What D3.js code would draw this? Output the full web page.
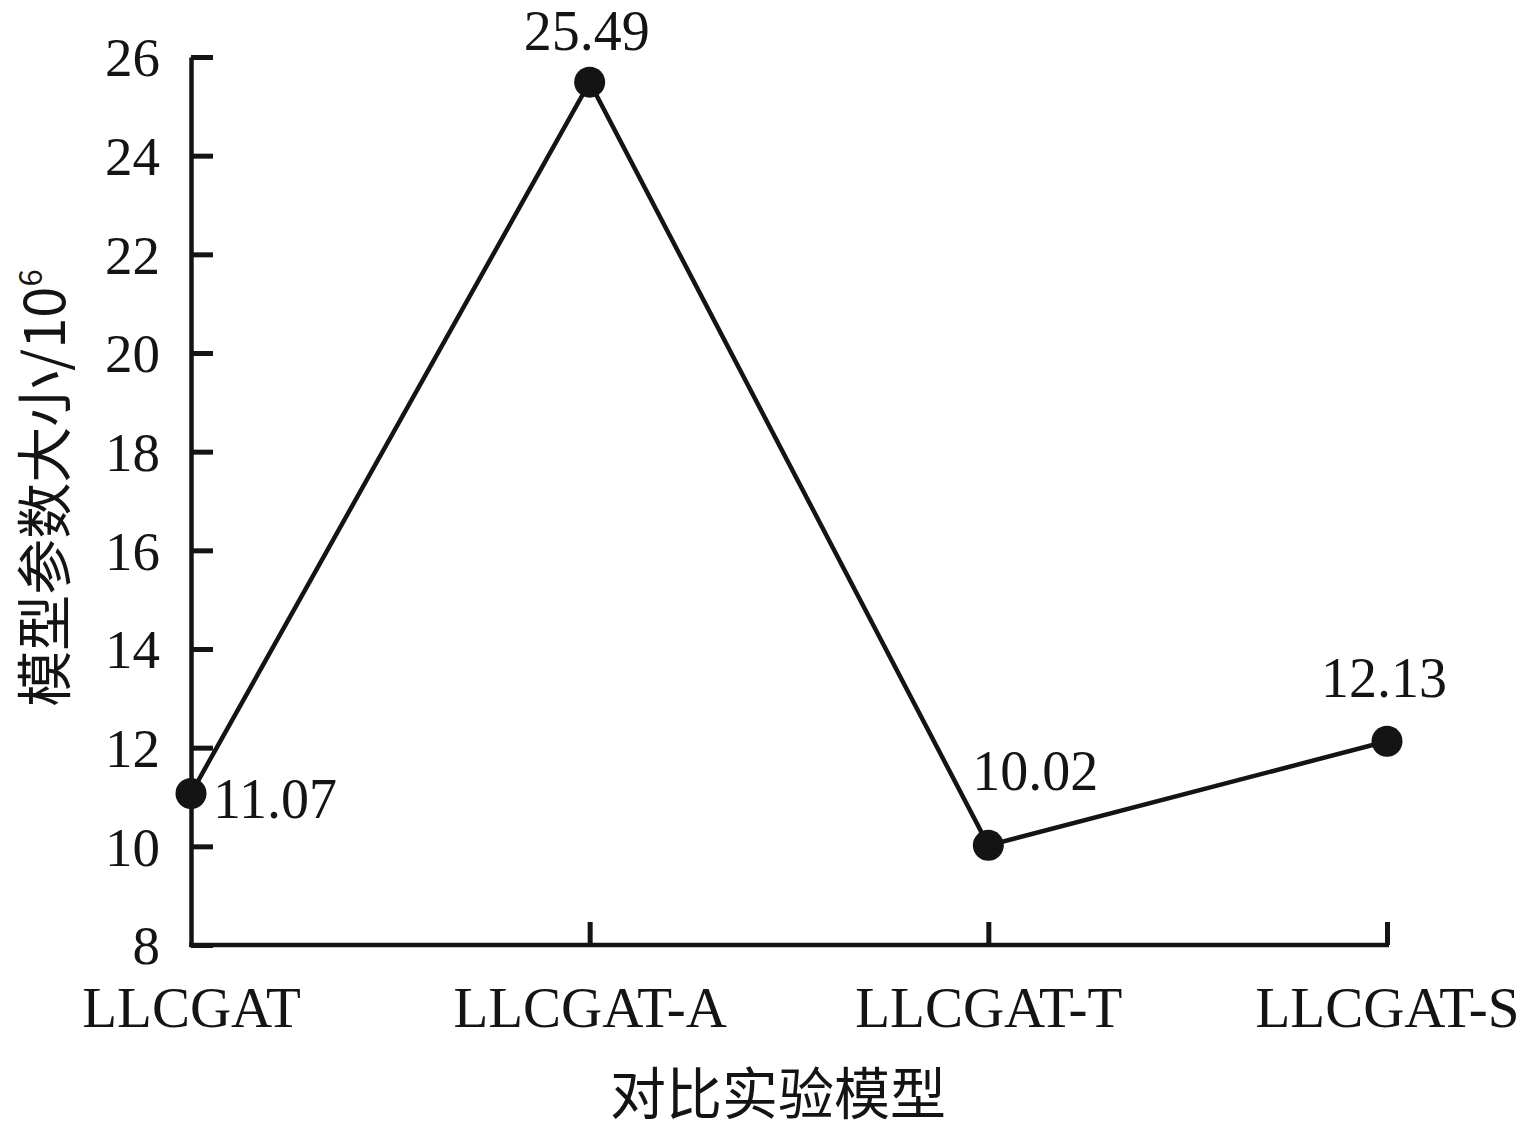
<!DOCTYPE html>
<html>
<head>
<meta charset="utf-8">
<script src="https://cdn.jsdelivr.net/npm/d3@7"></script>
<style>
  html, body { margin: 0; padding: 0; background: #fff; }
  svg { display: block; }
</style>
</head>
<body>
<svg id="chart" width="1530" height="1134"></svg>
<script>
const categories = ["LLCGAT", "LLCGAT-A", "LLCGAT-T", "LLCGAT-S"];
const values = [11.07, 25.49, 10.02, 12.13];
const valueLabels = ["11.07", "25.49", "10.02", "12.13"];
const yTicks = [8, 10, 12, 14, 16, 18, 20, 22, 24, 26];
const xTitle = "对比实验模型";
const yTitle = "模型参数大小/10";
const yTitleSup = "6";

const svg = d3.select("#chart");
const ink = "#141414";
const numFont = "'Liberation Serif', 'DejaVu Serif', serif";
const cjkFont = "'Noto Sans CJK SC', sans-serif";

const x = d3.scalePoint().domain(categories).range([191, 1387]).padding(0);
const y = d3.scaleLinear().domain([8, 26]).range([945, 57]);

// Y axis
const yAxis = d3.axisLeft(y).tickValues(yTicks).tickSizeInner(-22).tickSizeOuter(0).tickPadding(30);
const gy = svg.append("g").attr("transform", `translate(${x(categories[0])},0)`).call(yAxis);
gy.select(".domain").attr("stroke", ink).attr("stroke-width", 4.5);
gy.selectAll(".tick line").attr("stroke", ink).attr("stroke-width", 5);
gy.selectAll(".tick text")
  .attr("fill", ink).attr("font-family", numFont).attr("font-size", 55)
  .attr("x", -31).attr("dy", "0.34em");

// X axis
const xAxis = d3.axisBottom(x).tickSizeInner(-23).tickSizeOuter(0).tickPadding(0);
const gx = svg.append("g").attr("transform", `translate(0,${y(8)})`).call(xAxis);
gx.select(".domain").attr("stroke", ink).attr("stroke-width", 4.5)
  .attr("d", `M${x(categories[0]) - 2},0H${x(categories[categories.length - 1]) + 2}`);
gx.selectAll(".tick line").attr("stroke", ink).attr("stroke-width", 5);
gx.selectAll(".tick text")
  .attr("fill", ink).attr("font-family", numFont).attr("font-size", 57)
  .attr("y", 82).attr("dy", 0);
gx.selectAll(".tick").filter((d, i) => i === 0).select("line").remove();

// Line
const pts = categories.map((c, i) => ({ c, v: values[i], label: valueLabels[i] }));
svg.append("path")
  .datum(pts)
  .attr("fill", "none").attr("stroke", ink).attr("stroke-width", 4.5)
  .attr("stroke-linejoin", "miter")
  .attr("d", d3.line().x(d => x(d.c)).y(d => y(d.v)));

svg.selectAll("circle.pt")
  .data(pts).enter().append("circle")
  .attr("class", "pt")
  .attr("cx", d => x(d.c)).attr("cy", d => y(d.v)).attr("r", 15.5)
  .attr("fill", ink);

// Data labels
const labelPlace = [
  { dx: 22, dy: 24, anchor: "start" },
  { dx: -3, dy: -32, anchor: "middle" },
  { dx: 47, dy: -55, anchor: "middle" },
  { dx: -3, dy: -44, anchor: "middle" }
];
svg.selectAll("text.vl")
  .data(pts).enter().append("text")
  .attr("class", "vl")
  .attr("x", (d, i) => x(d.c) + labelPlace[i].dx)
  .attr("y", (d, i) => y(d.v) + labelPlace[i].dy)
  .attr("text-anchor", (d, i) => labelPlace[i].anchor)
  .attr("font-family", numFont).attr("font-size", 56).attr("fill", ink)
  .text(d => d.label);

// Axis titles
svg.append("text")
  .attr("x", 778).attr("y", 1114)
  .attr("text-anchor", "middle")
  .attr("font-family", cjkFont).attr("font-size", 56).attr("fill", ink)
  .text(xTitle);

const yt = svg.append("text")
  .attr("transform", "translate(65,488) rotate(-90)")
  .attr("text-anchor", "middle")
  .attr("font-family", cjkFont).attr("font-size", 56).attr("fill", ink);
yt.append("tspan").text(yTitle);
yt.append("tspan").attr("font-size", 31).attr("dy", -23).text(yTitleSup);
</script>
</body>
</html>
